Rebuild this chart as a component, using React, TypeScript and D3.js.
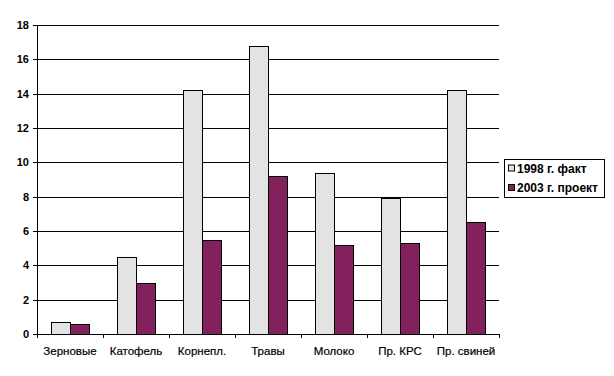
import React from "react";
import * as d3 from "d3";

const categories = ["Зерновые", "Катофель", "Корнепл.", "Травы", "Молоко", "Пр. КРС", "Пр. свиней"];
const fact1998 = [0.7, 4.5, 14.2, 16.8, 9.4, 7.9, 14.2];
const proj2003 = [0.6, 3.0, 5.5, 9.2, 5.2, 5.3, 6.5];
const seriesNames = ["1998 г. факт", "2003 г. проект"];
const yTicks = [0, 2, 4, 6, 8, 10, 12, 14, 16, 18];

const colors = ["#e3e3e3", "#83215e"];
const font = "Arial, 'Liberation Sans', sans-serif";

export default function App() {
  const W = 614, H = 376;
  const left = 37, right = 499, top = 25, bottom = 334;
  const x = d3.scaleBand<string>().domain(categories).range([left, right]).paddingInner(0).paddingOuter(0);
  const y = d3.scaleLinear().domain([0, 18]).range([bottom, top]);
  const bw = x.bandwidth();
  const barW = bw / 3.5;
  const gap = barW * 0.75;
  const series = [fact1998, proj2003];

  return (
    <svg width={W} height={H} style={{ position: "absolute", left: 0, top: 0, background: "#fff" }} fontFamily={font}>
      <rect x={0} y={0} width={W} height={H} fill="#fff" />
      {yTicks.map((t) => (
        <g key={t}>
          {t > 0 && (
            <line x1={left} x2={right} y1={Math.round(y(t)) + 0.5} y2={Math.round(y(t)) + 0.5} stroke="#000" strokeWidth={1} />
          )}
          <line x1={left - 4} x2={left} y1={Math.round(y(t)) + 0.5} y2={Math.round(y(t)) + 0.5} stroke="#000" />
          <text x={left - 8} y={y(t)} dy="0.35em" textAnchor="end" fontSize={11} fontWeight="bold" fill="#000">
            {t}
          </text>
        </g>
      ))}
      {categories.map((c, i) => (
        <g key={c}>
          {series.map((s, k) => {
            const x0 = (x(c) as number) + gap + k * barW;
            return (
              <rect
                key={k}
                x={Math.round(x0) + 0.5}
                y={Math.round(y(s[i])) + 0.5}
                width={Math.round(barW)}
                height={Math.round(bottom) - Math.round(y(s[i]))}
                fill={colors[k]}
                stroke="#000"
                strokeWidth={1}
              />
            );
          })}
          <text x={(x(c) as number) + bw / 2} y={355} textAnchor="middle" fontSize={11.5} fill="#000" stroke="#000" strokeWidth={0.2}>
            {c}
          </text>
        </g>
      ))}
      {d3.range(categories.length + 1).map((i) => {
        const xx = Math.round(left + i * bw) + 0.5;
        return <line key={i} x1={xx} x2={xx} y1={bottom} y2={bottom + 4} stroke="#000" />;
      })}
      <line x1={left + 0.5} x2={left + 0.5} y1={top} y2={bottom + 0.5} stroke="#000" />
      <line x1={left} x2={right + 0.5} y1={bottom + 0.5} y2={bottom + 0.5} stroke="#000" />
      <g>
        <rect x={504.5} y={159.5} width={100} height={38} fill="#fff" stroke="#000" />
        {seriesNames.map((n, k) => (
          <g key={n}>
            <rect x={508.5} y={165 + k * 19.5} width={6} height={6} fill={colors[k]} stroke="#000" />
            <text x={517} y={168.3 + k * 19.5} dy="0.35em" fontSize={12} fontWeight="bold" fill="#000">
              {n}
            </text>
          </g>
        ))}
      </g>
    </svg>
  );
}
